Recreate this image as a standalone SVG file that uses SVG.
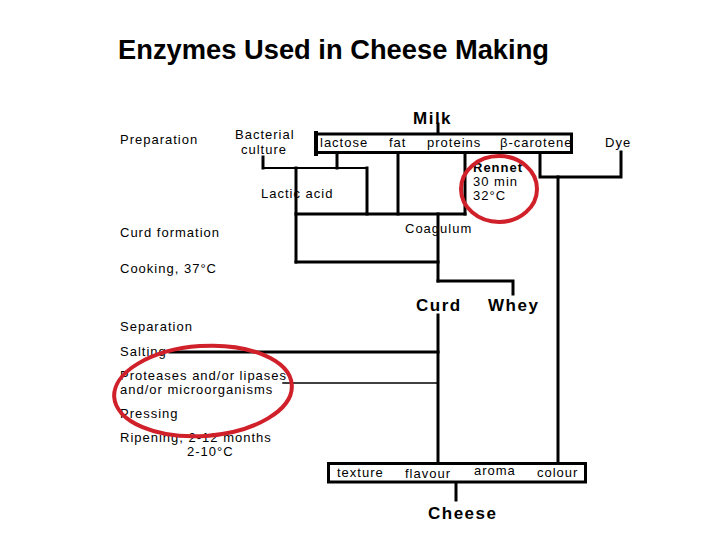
<svg xmlns="http://www.w3.org/2000/svg" width="720" height="540" viewBox="0 0 720 540">
<style>
.t{font-family:"Liberation Sans",Arial,sans-serif;font-size:13px;letter-spacing:1px;fill:#000}
.b{font-family:"Liberation Sans",Arial,sans-serif;font-size:17px;font-weight:bold;letter-spacing:1.5px;fill:#000}
.ln{stroke:#000;fill:none;stroke-linecap:square}
.w3{stroke-width:3}
.w2{stroke-width:2}
.w1{stroke-width:1.5}
.box{fill:#fff;stroke:#000;stroke-width:3}
.ring{fill:none;stroke:#d0202a;stroke-width:4}
</style>
<rect width="720" height="540" fill="#fff"/>
<text id="title" x="118" y="59" font-family="'Liberation Sans',Arial,sans-serif" font-size="28.5" font-weight="bold" textLength="431" lengthAdjust="spacingAndGlyphs">Enzymes Used in Cheese Making</text>

<g id="connectors">
  <line class="ln w3" x1="438" y1="124" x2="438" y2="133"/>
  <line class="ln w3" x1="263" y1="157" x2="263" y2="168"/>
  <line class="ln w2" x1="263" y1="168" x2="367" y2="168"/>
  <line class="ln w3" x1="337" y1="153" x2="337" y2="168"/>
  <line class="ln w3" x1="367" y1="168" x2="367" y2="214"/>
  <line class="ln w3" x1="296" y1="168" x2="296" y2="262"/>
  <line class="ln w3" x1="398" y1="153" x2="398" y2="214"/>
  <line class="ln w3" x1="465" y1="153" x2="465" y2="214"/>
  <line class="ln w3" x1="296" y1="214" x2="465" y2="214"/>
  <line class="ln w3" x1="296" y1="262" x2="438" y2="262"/>
  <line class="ln w3" x1="438" y1="214" x2="438" y2="281"/>
  <polyline class="ln w3" points="438,281 513,281 513,294"/>
  <line class="ln w3" x1="438" y1="315" x2="438" y2="462"/>
  <line class="ln w3" x1="170" y1="352" x2="438" y2="352"/>
  <line class="ln w1" x1="283" y1="383" x2="438" y2="383"/>
  <polyline class="ln w3" points="540,153 540,177 621,177 621,152"/>
  <line class="ln w3" x1="558" y1="177" x2="558" y2="462"/>
  <line class="ln w3" x1="456" y1="483" x2="456" y2="500"/>
</g>

<g id="milk"><text class="b" x="413" y="124" letter-spacing="1">Milk</text></g>
<g id="components">
  <rect class="box" x="315.5" y="134" width="256" height="18.5"/>
  <line class="ln" stroke-width="4" x1="316" y1="133" x2="316" y2="154"/>
  <text class="t" x="320" y="147">lactose</text>
  <text class="t" x="389" y="147">fat</text>
  <text class="t" x="427" y="147">proteins</text>
  <text class="t" x="500" y="147">β-carotene</text>
</g>
<g id="dye"><text class="t" x="605" y="147">Dye</text></g>
<g id="bacterial-culture">
  <text class="t" x="235" y="139">Bacterial</text>
  <text class="t" x="241" y="154">culture</text>
</g>
<g id="lactic-acid"><text class="t" x="261" y="198">Lactic acid</text></g>
<g id="rennet">
  <text class="t" x="473" y="172" font-weight="bold" letter-spacing="0.8">Rennet</text>
  <text class="t" x="473" y="186">30 min</text>
  <text class="t" x="473" y="200">32°C</text>
  <ellipse class="ring" cx="499" cy="189" rx="38" ry="33"/>
</g>
<g id="coagulum"><text class="t" x="405" y="233">Coagulum</text></g>
<g id="curd"><text class="b" x="416" y="311">Curd</text></g>
<g id="whey"><text class="b" x="488" y="311">Whey</text></g>

<g id="steps">
  <text class="t" x="120" y="144">Preparation</text>
  <text class="t" x="120" y="237">Curd formation</text>
  <text class="t" x="120" y="273">Cooking, 37°C</text>
  <text class="t" x="120" y="331">Separation</text>
  <text class="t" x="120" y="356">Salting</text>
  <text class="t" x="120" y="380">Proteases and/or lipases</text>
  <text class="t" x="120" y="394">and/or microorganisms</text>
  <text class="t" x="120" y="418">Pressing</text>
  <text class="t" x="120" y="442">Ripening, 2-12 months</text>
  <text class="t" x="187" y="456">2-10°C</text>
  <ellipse class="ring" cx="203" cy="391" rx="89" ry="45" transform="rotate(-4 203 391)"/>
</g>

<g id="properties">
  <rect class="box" x="328.5" y="463.5" width="257" height="18.5"/>
  <text class="t" x="337" y="477">texture</text>
  <text class="t" x="405" y="478">flavour</text>
  <text class="t" x="474" y="475">aroma</text>
  <text class="t" x="537" y="477">colour</text>
</g>
<g id="cheese"><text class="b" x="428" y="519">Cheese</text></g>
</svg>
